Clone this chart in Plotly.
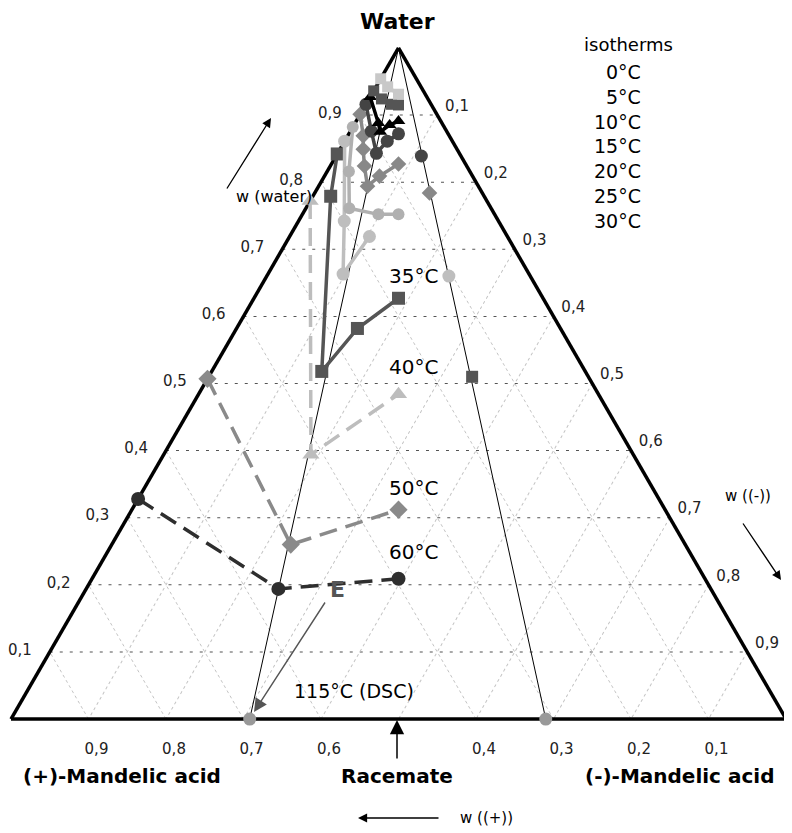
import plotly.graph_objects as go

# ---- data: (water, (+), (-)) mass fractions ----
iso_00_water = [0.954, 0.942, 0.931]
iso_00_plus = [0.046, 0.043, 0.0345]
iso_00_minus = [0.000, 0.015, 0.0345]

iso_05_water = [0.936, 0.924, 0.916, 0.915]
iso_05_plus = [0.064, 0.060, 0.051, 0.0425]
iso_05_minus = [0.000, 0.016, 0.033, 0.0425]

iso_10_water = [0.927, 0.888, 0.875, 0.885, 0.891]
iso_10_plus = [0.073, 0.082, 0.086, 0.069, 0.0545]
iso_10_minus = [0.000, 0.030, 0.039, 0.046, 0.0545]

iso_15_water = [0.916, 0.876, 0.843, 0.861, 0.872]
iso_15_plus = [0.084, 0.097, 0.107, 0.084, 0.064]
iso_15_minus = [0.000, 0.027, 0.050, 0.055, 0.064]
iso_15_mirror = [0.839, 0.051, 0.110]

iso_20_water = [0.901, 0.869, 0.849, 0.824, 0.794, 0.809, 0.827]
iso_20_plus = [0.099, 0.111, 0.121, 0.132, 0.143, 0.120, 0.0865]
iso_20_minus = [0.000, 0.020, 0.030, 0.044, 0.063, 0.071, 0.0865]
iso_20_mirror = [0.784, 0.068, 0.148]

iso_25_water = [0.882, 0.816, 0.761, 0.752, 0.752]
iso_25_plus = [0.118, 0.156, 0.183, 0.150, 0.124]
iso_25_minus = [0.000, 0.028, 0.056, 0.098, 0.124]

iso_30_water = [0.861, 0.742, 0.663, 0.719]
iso_30_plus = [0.139, 0.199, 0.240, 0.178]
iso_30_minus = [0.000, 0.059, 0.097, 0.103]
iso_30_mirror = [0.660, 0.105, 0.235]

iso_35_water = [0.842, 0.779, 0.518, 0.582, 0.627]
iso_35_plus = [0.158, 0.198, 0.340, 0.262, 0.1865]
iso_35_minus = [0.000, 0.023, 0.142, 0.156, 0.1865]
iso_35_mirror = [0.510, 0.150, 0.340]

iso_40_water = [0.772, 0.394, 0.484]
iso_40_plus = [0.228, 0.416, 0.258]
iso_40_minus = [0.000, 0.190, 0.258]

iso_50_water = [0.507, 0.260, 0.312]
iso_50_plus = [0.493, 0.509, 0.344]
iso_50_minus = [0.000, 0.231, 0.344]

iso_60_water = [0.328, 0.194, 0.209]
iso_60_plus = [0.672, 0.558, 0.3955]
iso_60_minus = [0.000, 0.248, 0.3955]

eutectic_water = [0.0, 0.0]
eutectic_plus = [0.692, 0.310]
eutectic_minus = [0.308, 0.690]

tick_vals = [0.1, 0.2, 0.3, 0.4, 0.5, 0.6, 0.7, 0.8, 0.9]
tick_vals_b = [0.1, 0.2, 0.3, 0.4, 0.6, 0.7, 0.8, 0.9]
legend_temps = ["0°C", "5°C", "10°C", "15°C", "20°C", "25°C", "30°C"]

fig = go.Figure()

# thin eutectic lines from water apex
for bp, cm in zip(eutectic_plus, eutectic_minus):
    fig.add_trace(go.Scatterternary(a=[1, 0], b=[0, bp], c=[0, cm], mode="lines", cliponaxis=False,
                                    line=dict(color="black", width=1), hoverinfo="skip"))

def iso(a, b, c, color, symbol, dash="solid", size=12, width=3.5):
    fig.add_trace(go.Scatterternary(a=a, b=b, c=c, mode="lines+markers", cliponaxis=False,
                                    line=dict(color=color, width=width, dash=dash),
                                    marker=dict(color=color, symbol=symbol, size=size)))

def mirror(p, color, symbol, size=12):
    fig.add_trace(go.Scatterternary(a=[p[0]], b=[p[1]], c=[p[2]], mode="markers", cliponaxis=False,
                                    marker=dict(color=color, symbol=symbol, size=size)))

dash_pat = "18px,9px"
iso(iso_60_water, iso_60_plus, iso_60_minus, "#2e2e2e", "circle", dash_pat, 14, 3.5)
iso(iso_50_water, iso_50_plus, iso_50_minus, "#8a8a8a", "diamond", dash_pat, 14, 3.5)
iso(iso_40_water, iso_40_plus, iso_40_minus, "#bdbdbd", "triangle-up", dash_pat, 15, 3.5)
iso(iso_35_water, iso_35_plus, iso_35_minus, "#555555", "square", "solid", 13, 3.5)
mirror(iso_35_mirror, "#555555", "square", 12)
iso(iso_30_water, iso_30_plus, iso_30_minus, "#bebebe", "circle", "solid", 13, 3.5)
mirror(iso_30_mirror, "#bebebe", "circle", 13)
iso(iso_25_water, iso_25_plus, iso_25_minus, "#b0b0b0", "circle", "solid", 12, 3.5)
iso(iso_20_water, iso_20_plus, iso_20_minus, "#888888", "diamond", "solid", 12, 3.5)
mirror(iso_20_mirror, "#888888", "diamond", 12)
iso(iso_15_water, iso_15_plus, iso_15_minus, "#444444", "circle", "solid", 13, 3.5)
mirror(iso_15_mirror, "#444444", "circle", 13)
iso(iso_10_water, iso_10_plus, iso_10_minus, "#000000", "triangle-up", "solid", 12, 3.5)
iso(iso_05_water, iso_05_plus, iso_05_minus, "#555555", "square", "solid", 11, 3.5)
iso(iso_00_water, iso_00_plus, iso_00_minus, "#c8c8c8", "square", "solid", 11, 3.5)

fig.add_trace(go.Scatterternary(a=eutectic_water, b=eutectic_plus, c=eutectic_minus, mode="markers",
                                cliponaxis=False, marker=dict(color="#999999", size=13)))

# page has an 8px body margin; work in page pixels and shift
OFF = 8
W, H = 792 - OFF, 833 - OFF
def px(x): return (x - OFF) / W
def py(y): return 1 - (y - OFF) / H

axis_common = dict(showline=True, linecolor="black", linewidth=3.5, showgrid=True,
                   gridwidth=0.8, ticks="outside", tickcolor="rgba(0,0,0,0)", layer="below traces",
                   tickfont=dict(size=15, color="#222"), tickformat=".1f", title=dict(text=""))

fig.update_layout(
    width=W, height=H, showlegend=False, separators=", ",
    paper_bgcolor="white", margin=dict(l=0, r=0, t=0, b=0),
    font=dict(family="DejaVu Sans, sans-serif", color="black"),
    ternary=dict(
        sum=1, bgcolor="white",
        domain=dict(x=[px(11), px(786)], y=[py(720.5), py(46.5)]),
        aaxis=dict(tickvals=tick_vals, gridcolor="#555555", griddash="3px,7px", ticklen=14, **axis_common),
        baxis=dict(tickvals=tick_vals_b, gridcolor="#c4c4c4", griddash="dot", ticklen=16, **axis_common),
        caxis=dict(tickvals=tick_vals, gridcolor="#c4c4c4", griddash="dot", ticklen=8, **axis_common),
    ),
)

def text(x, y, s, size=17, bold=False, xanchor="center", color="black"):
    fig.add_annotation(x=px(x), y=py(y), xref="paper", yref="paper", text=("<b>%s</b>" % s) if bold else s,
                       showarrow=False, xanchor=xanchor, yanchor="middle",
                       font=dict(size=size, color=color))

def arrow(x0, y0, x1, y1, color="black", width=1.3, size=1.4):
    fig.add_annotation(x=px(x1), y=py(y1), xref="paper", yref="paper", ax=x0 - x1, ay=y0 - y1,
                       text="", showarrow=True, arrowhead=2, arrowsize=size, arrowwidth=width,
                       arrowcolor=color)

text(397, 22, "Water", 22, True)
text(122, 776, "(+)-Mandelic acid", 20, True)
text(397, 776, "Racemate", 20, True)
text(679, 776, "(-)-Mandelic acid", 20, True)

text(458, 818, "w ((+))", 15, xanchor="left")
arrow(440, 818, 358, 818)
text(274, 196, "w (water)", 16)
arrow(226, 190, 271, 118)
text(748, 496, "w ((-))", 15)
arrow(742, 522, 781, 580)
arrow(397, 760, 397, 720, width=1.5, size=1.9)

text(387, 276, "35°C", 20, xanchor="left")
text(387, 367, "40°C", 20, xanchor="left")
text(387, 488, "50°C", 20, xanchor="left")
text(387, 552, "60°C", 20, xanchor="left")

text(337, 589, "E", 22, bold=True, color="#555")
arrow(326, 601, 254, 712, color="#555", width=1.4, size=1.9)
text(292, 691, "115°C (DSC)", 19, xanchor="left")

text(582, 45, "isotherms", 18, xanchor="left")
for i, t in enumerate(legend_temps):
    text(643, 72 + i * 24.8, t, 19, xanchor="right")

fig.write_html("out.html")
